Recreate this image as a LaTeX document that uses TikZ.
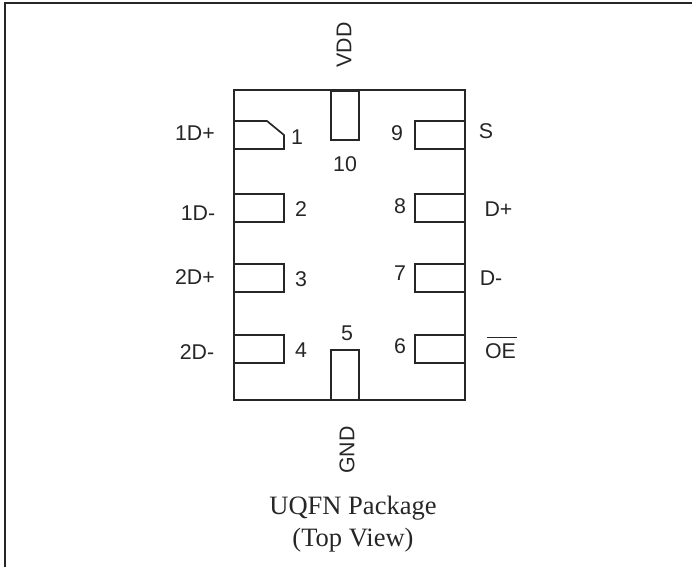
\documentclass[tikz,border=0pt]{standalone}
\usepackage{fontspec}
\setmainfont{Liberation Sans}
\newfontfamily\capfont{Liberation Serif}
\tikzset{x=0.75pt,y=-0.75pt,
 pad/.style={draw=black!85,line width=1.05pt,fill=white},
 lbl/.style={inner sep=0pt,font=\fontsize{16pt}{18pt}\selectfont,text=black!85},
 captxt/.style={inner sep=0pt,font=\capfont\fontsize{19.9pt}{22pt}\selectfont,text=black!85}}
\begin{document}
\begin{tikzpicture}
\useasboundingbox (0,0) rectangle (692,567);
\draw[black!85,line width=1.7pt] (5.3,567) -- (5.3,2.8) -- (692,2.8);
\draw[black!85,line width=0.9pt] (234,90) rectangle (465,400);
\draw[pad,line width=1.25pt] (234,121) -- (267,121) -- (284,135) -- (284,149) -- (234,149) -- cycle;
\foreach \y in {194,264,335}{\draw[pad] (234,\y) rectangle +(50,28);}
\foreach \y in {121,194,264,335}{\draw[pad] (415,\y) rectangle +(50,28);}
\draw[pad] (331,91) rectangle (359,140);
\draw[pad] (331,350) rectangle (359,400);
\node[lbl] (p1) at (297,137) {1};
\node[lbl] (p2) at (301,209) {2};
\node[lbl] (p3) at (301,279) {3};
\node[lbl] (p4) at (301,350) {4};
\node[lbl] (p5) at (347,333) {5};
\node[lbl] (p6) at (400,346) {6};
\node[lbl] (p7) at (400,273) {7};
\node[lbl] (p8) at (400,206) {8};
\node[lbl] (p9) at (397,133) {9};
\node[lbl] (p10) at (345,164) {10};
\node[lbl] (n1) at (195,133) {1D+};
\node[lbl] (n2) at (198,213) {1D-};
\node[lbl] (n3) at (195,277) {2D+};
\node[lbl] (n4) at (197,352) {2D-};
\node[lbl] (s1) at (486,131) {S};
\node[lbl] (s2) at (498.5,209) {D+};
\node[lbl] (s3) at (491,278) {D-};
\node[lbl] (s4) at (500.5,351) {OE};
\draw[black!85,line width=0.9pt] (s4.north west)++(2,-6) -- ++(30,0);
\node[lbl,rotate=90] (vdd) at (344,45) {VDD};
\node[lbl,rotate=90] (gnd) at (347,450) {GND};
\node[captxt] (c1) at (353,508) {UQFN Package};
\node[captxt] (c2) at (353,540) {(Top View)};
\end{tikzpicture}
\end{document}
